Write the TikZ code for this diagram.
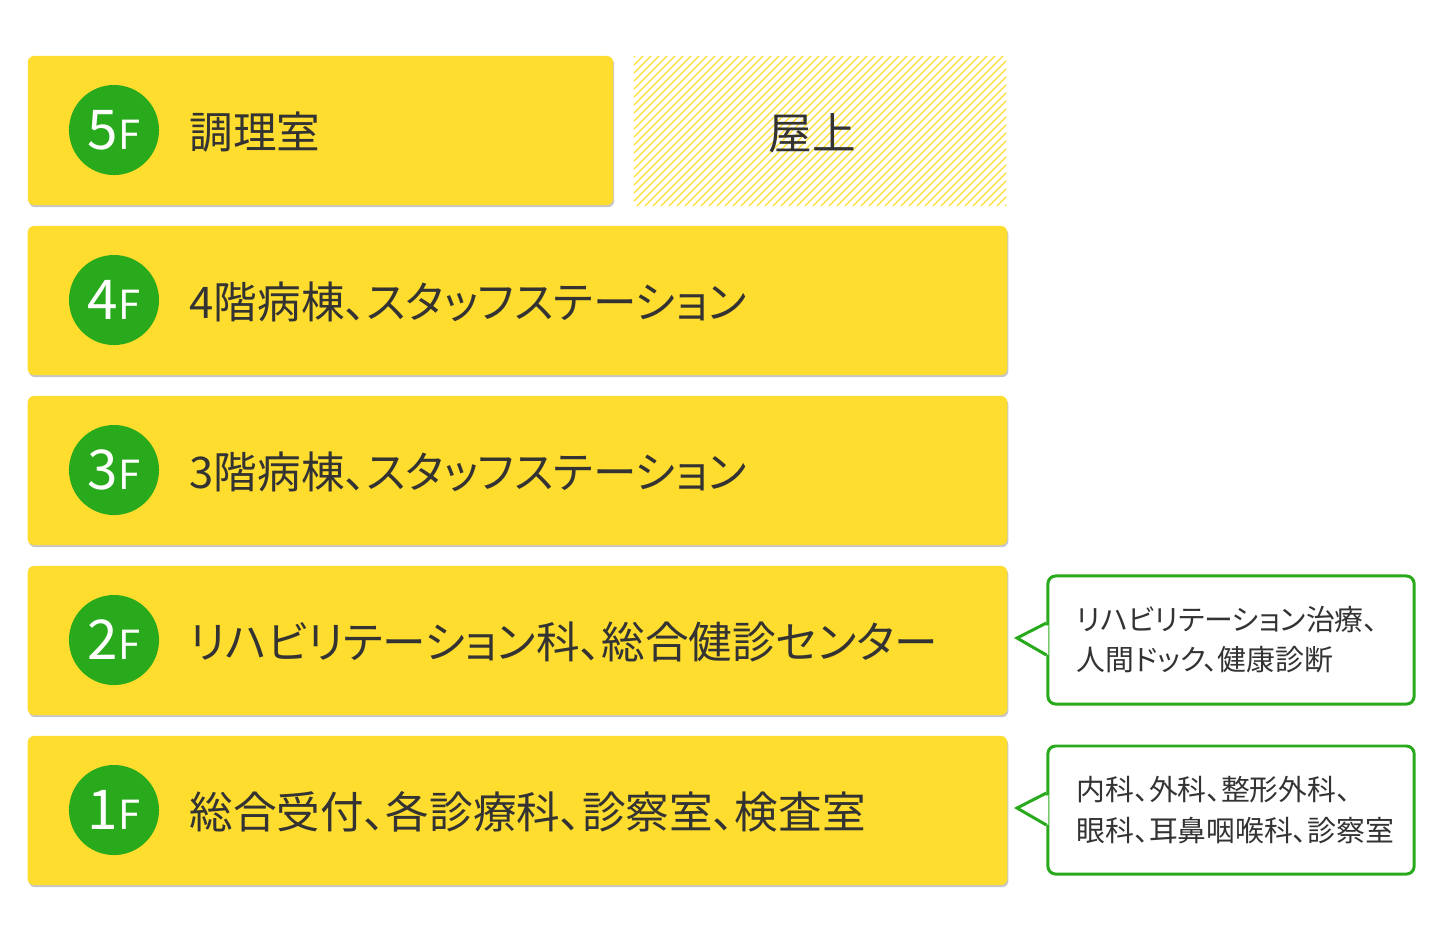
\documentclass[tikz,border=0pt]{standalone}
\usepackage{fontspec}
\newfontfamily\jpfont[RawFeature=+palt]{Noto Sans CJK JP}
\usetikzlibrary{positioning,calc,shadows}
\definecolor{flyellow}{HTML}{FFDD2E}
\definecolor{flgreen}{HTML}{28AA1C}
\definecolor{fltext}{HTML}{333333}
\newcommand{\flno}[1]{{\fontsize{15.6pt}{15.6pt}\selectfont #1}\kern0.3pt{\fontsize{11.4pt}{11.4pt}\selectfont F}}

\begin{document}
\begin{tikzpicture}[x=0.01cm, y=-0.01cm,
  flbar/.style={fill=flyellow, rounded corners=1.8pt, minimum height=1.49cm, inner sep=0pt,
    drop shadow={shadow xshift=0.3pt, shadow yshift=-0.6pt, fill=black!22, opacity=1}},
  flmark/.style={circle, fill=flgreen, minimum size=0.9cm, inner sep=0pt, text=white, font=\jpfont},
  fllabel/.style={anchor=west, inner sep=0pt, text=fltext, font={\jpfont\fontsize{12.4pt}{14pt}\selectfont}},
  note/.style={draw=flgreen, line width=0.85pt, rounded corners=2.2pt, fill=white,
    minimum width=3.66cm, minimum height=1.28cm, inner xsep=0.29cm, text width=3.08cm,
    align=left, text=fltext, font={\jpfont\fontsize{8.2pt}{11.4pt}\selectfont}},
  notetip/.style={draw=flgreen, line width=0.85pt, line join=miter},
  hatchline/.style={flyellow, line width=0.35pt}
]
\useasboundingbox (0,0) rectangle (1440,950);

% roof
\begin{scope}
  \clip (634,56) rectangle (1006,205);
  \foreach \i in {485,493,...,1010} {
    \draw[hatchline] (\i,206) -- ++(150,-150);
  }
\end{scope}
\node[fllabel, anchor=center] (roof) at (812,133) {屋上};

% floors
\node[flbar, minimum width=5.85cm] (b5) at (320.5,130.5) {};
\node[flmark] (m5) at (114,130) {\flno{5}};
\node[fllabel] (l5) at (189,132) {調理室};

\node[flbar, minimum width=9.79cm] (b4) at (517.5,300.5) {};
\node[flmark] (m4) at (114,300) {\flno{4}};
\node[fllabel] (l4) at (189,302) {4階病棟、スタッフステーション};

\node[flbar, minimum width=9.79cm] (b3) at (517.5,470.5) {};
\node[flmark] (m3) at (114,470) {\flno{3}};
\node[fllabel] (l3) at (189,472) {3階病棟、スタッフステーション};

\node[flbar, minimum width=9.79cm] (b2) at (517.5,640.5) {};
\node[flmark] (m2) at (114,640) {\flno{2}};
\node[fllabel] (l2) at (189,642) {リハビリテーション科、総合健診センター};

\node[flbar, minimum width=9.79cm] (b1) at (517.5,810.5) {};
\node[flmark] (m1) at (114,810) {\flno{1}};
\node[fllabel] (l1) at (189,812) {総合受付、各診療科、診察室、検査室};

% notes
\node[note] (n2) at (1231,640) {リハビリテーション治療、\\人間ドック、健康診断};
\coordinate (t2) at (1017,638);
\fill[white] ($(n2.west)+(2,-15)$) -- ($(t2)+(4,0)$) -- ($(n2.west)+(2,15)$) -- cycle;
\draw[notetip] ($(n2.west)+(0,-17)$) -- (t2) -- ($(n2.west)+(0,15)$);

\node[note] (n1) at (1231,810) {内科、外科、整形外科、\\眼科、耳鼻咽喉科、診察室};
\coordinate (t1) at (1017,808);
\fill[white] ($(n1.west)+(2,-15)$) -- ($(t1)+(4,0)$) -- ($(n1.west)+(2,15)$) -- cycle;
\draw[notetip] ($(n1.west)+(0,-17)$) -- (t1) -- ($(n1.west)+(0,15)$);
\end{tikzpicture}
\end{document}
